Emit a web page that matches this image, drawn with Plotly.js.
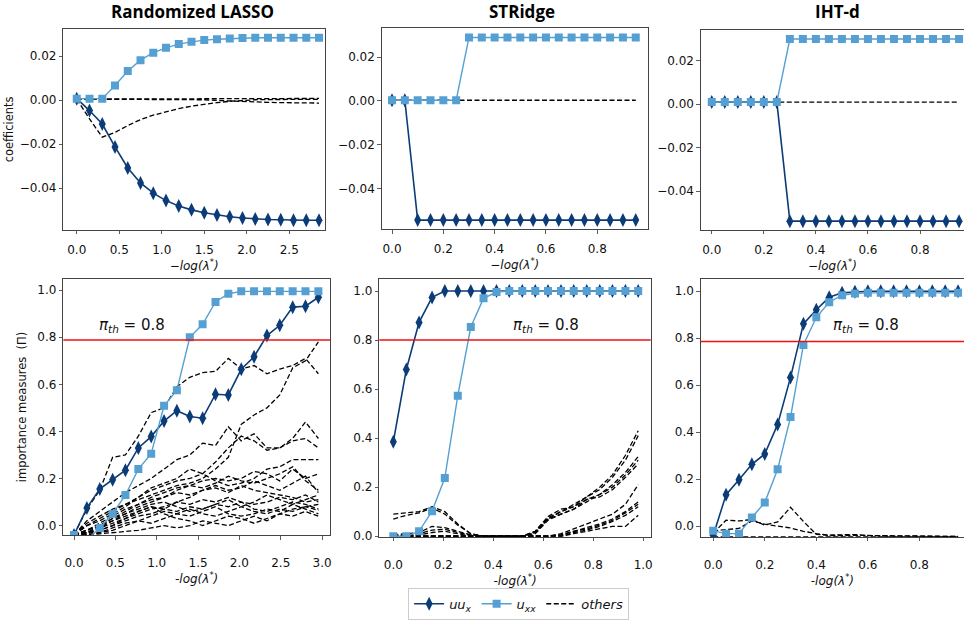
<!DOCTYPE html>
<html>
<head>
<meta charset="utf-8">
<script src="https://cdn.plot.ly/plotly-3.0.1.min.js"></script>
<style>html,body{margin:0;padding:0;background:#fff;}#chart{width:964px;height:620px;}</style>
</head>
<body>
<div id="chart"></div>
<script>
// ---------------- data ----------------
const panelTitles = ['Randomized LASSO', 'STRidge', 'IHT-d'];
const seriesNames = ['<i>uu<sub>x</sub></i>', '<i>u<sub>xx</sub></i>', '<i>others</i>'];
const piThreshold = [0.788, 0.8, 0.786];

// top row: coefficients
const xLassoTop = [0, 0.15, 0.3, 0.45, 0.6, 0.75, 0.9, 1.05, 1.2, 1.35, 1.5, 1.65, 1.8, 1.95, 2.1, 2.25, 2.4, 2.55, 2.7, 2.85];
const uuLassoTop = [0.0007, -0.0047, -0.0108, -0.0212, -0.0308, -0.0376, -0.0422, -0.0456, -0.0481, -0.0498, -0.0511, -0.0521, -0.0529, -0.0535, -0.0539, -0.0542, -0.0543, -0.0545, -0.0545, -0.0545];
const xxLassoTop = [0.0007, 0.0007, 0.0007, 0.0067, 0.0133, 0.0182, 0.0216, 0.0238, 0.0255, 0.0265, 0.0273, 0.0277, 0.0280, 0.0283, 0.0284, 0.0284, 0.0284, 0.0284, 0.0284, 0.0284];
const othLassoTop1 = [0.0005, 0.0005, 0.0005, 0.0005, 0.0005, 0.0005, 0.0005, 0.0005, 0.0005, 0.0005, 0.0005, 0.0005, 0.0006, 0.0006, 0.0006, 0.0007, 0.0007, 0.0007, 0.0008, 0.0008];
const othLassoTop2 = [0.0005, 0.0005, 0.0005, 0.0005, 0.0005, 0.0005, 0.0005, 0.0005, 0.0005, 0.0005, 0.0002, -0.0001, -0.0004, -0.0006, -0.0008, -0.001, -0.0011, -0.0012, -0.0013, -0.0013];
const othLassoTop3 = [0.0005, -0.0085, -0.0168, -0.0146, -0.0115, -0.0088, -0.0068, -0.0052, -0.0038, -0.0027, -0.0018, -0.0011, -0.0005, -0.0001, 0.0002, 0.0003, 0.0004, 0.0004, 0.0004, 0.0004];

const xSparseTop = [0, 0.05, 0.1, 0.15, 0.2, 0.25, 0.3, 0.35, 0.4, 0.45, 0.5, 0.55, 0.6, 0.65, 0.7, 0.75, 0.8, 0.85, 0.9, 0.95];
const uuSTRTop = [0.0003, 0.0003, -0.0545, -0.0545, -0.0545, -0.0545, -0.0545, -0.0545, -0.0545, -0.0545, -0.0545, -0.0545, -0.0545, -0.0545, -0.0545, -0.0545, -0.0545, -0.0545, -0.0545, -0.0545];
const xxSTRTop = [0.0003, 0.0003, 0.0003, 0.0003, 0.0003, 0.0003, 0.029, 0.029, 0.029, 0.029, 0.029, 0.029, 0.029, 0.029, 0.029, 0.029, 0.029, 0.029, 0.029, 0.029];
const othSTRTop = [0.0003, 0.0003, 0.0003, 0.0003, 0.0003, 0.0003, 0.0003, 0.0003, 0.0003, 0.0003, 0.0003, 0.0003, 0.0003, 0.0003, 0.0003, 0.0003, 0.0003, 0.0003, 0.0003, 0.0003];
const uuIHTTop = [0.0009, 0.0009, 0.0009, 0.0009, 0.0009, 0.0009, -0.0537, -0.0537, -0.0537, -0.0537, -0.0537, -0.0537, -0.0537, -0.0537, -0.0537, -0.0537, -0.0537, -0.0537, -0.0537, -0.0537];
const xxIHTTop = [0.0009, 0.0009, 0.0009, 0.0009, 0.0009, 0.0009, 0.0298, 0.0298, 0.0298, 0.0298, 0.0298, 0.0298, 0.0298, 0.0298, 0.0298, 0.0298, 0.0298, 0.0298, 0.0298, 0.0298];
const othIHTTop = [0.0009, 0.0009, 0.0009, 0.0009, 0.0009, 0.0009, 0.0009, 0.0009, 0.0009, 0.0009, 0.0009, 0.0009, 0.0009, 0.0009, 0.0009, 0.0009, 0.0009, 0.0009, 0.0009, 0.0009];

// bottom row: importance measures
const xLassoBot = [0, 0.156, 0.311, 0.467, 0.622, 0.778, 0.933, 1.089, 1.244, 1.4, 1.555, 1.711, 1.866, 2.022, 2.177, 2.333, 2.488, 2.644, 2.799, 2.955];
const uuLassoBot = [-0.04, 0.075, 0.155, 0.195, 0.235, 0.33, 0.378, 0.444, 0.488, 0.463, 0.456, 0.558, 0.555, 0.664, 0.717, 0.807, 0.851, 0.928, 0.932, 0.97];
const xxLassoBot = [-0.04, -0.06, -0.01, 0.05, 0.13, 0.24, 0.305, 0.509, 0.575, 0.8, 0.855, 0.95, 0.985, 0.995, 0.995, 0.995, 0.995, 0.995, 0.995, 0.995];
const othLassoBot = [
  [-0.04, 0.07, 0.15, 0.29, 0.30, 0.38, 0.48, 0.50, 0.59, 0.63, 0.65, 0.655, 0.71, 0.665, 0.68, 0.645, 0.665, 0.68, 0.71, 0.645],
  [-0.04, 0.01, 0.04, 0.07, 0.09, 0.11, 0.13, 0.15, 0.17, 0.18, 0.2, 0.24, 0.29, 0.43, 0.47, 0.5, 0.555, 0.67, 0.7, 0.78],
  [-0.04, 0.02, 0.06, 0.1, 0.14, 0.17, 0.2, 0.24, 0.28, 0.3, 0.35, 0.34, 0.42, 0.36, 0.39, 0.33, 0.33, 0.37, 0.44, 0.37],
  [-0.04, 0.0, 0.03, 0.06, 0.09, 0.12, 0.15, 0.17, 0.19, 0.2, 0.22, 0.27, 0.33, 0.38, 0.36, 0.32, 0.33, 0.36, 0.37, 0.33],
  [-0.04, 0.0, 0.02, 0.05, 0.08, 0.12, 0.16, 0.18, 0.2, 0.24, 0.22, 0.19, 0.17, 0.18, 0.2, 0.24, 0.25, 0.28, 0.28, 0.28],
  [-0.04, -0.02, 0.0, 0.03, 0.06, 0.09, 0.12, 0.14, 0.16, 0.17, 0.19, 0.2, 0.19, 0.2, 0.23, 0.22, 0.19, 0.24, 0.2, 0.22],
  [-0.04, -0.02, 0.01, 0.04, 0.07, 0.09, 0.11, 0.12, 0.15, 0.17, 0.16, 0.18, 0.21, 0.19, 0.18, 0.2, 0.22, 0.25, 0.19, 0.15],
  [-0.04, -0.03, 0.0, 0.02, 0.04, 0.06, 0.08, 0.07, 0.1, 0.12, 0.15, 0.17, 0.15, 0.16, 0.19, 0.17, 0.15, 0.18, 0.21, 0.14],
  [-0.04, -0.03, -0.01, 0.01, 0.03, 0.05, 0.07, 0.08, 0.1, 0.09, 0.11, 0.1, 0.12, 0.1, 0.09, 0.1, 0.12, 0.11, 0.13, 0.1],
  [-0.04, -0.03, -0.02, 0.0, 0.02, 0.04, 0.05, 0.07, 0.06, 0.08, 0.07, 0.09, 0.08, 0.1, 0.07, 0.06, 0.08, 0.1, 0.09, 0.07],
  [-0.04, -0.04, -0.03, -0.01, 0.01, 0.02, 0.04, 0.06, 0.05, 0.04, 0.06, 0.08, 0.05, 0.04, 0.05, 0.07, 0.06, 0.09, 0.07, 0.05],
  [-0.04, -0.035, -0.02, 0.0, 0.03, 0.06, 0.08, 0.05, 0.03, 0.02, 0.0, 0.02, 0.04, 0.03, 0.01, 0.03, 0.05, 0.04, 0.06, 0.04],
  [-0.04, -0.03, -0.01, 0.02, 0.05, 0.07, 0.09, 0.1, 0.08, 0.06, 0.07, 0.09, 0.11, 0.08, 0.1, 0.13, 0.11, 0.09, 0.11, 0.13],
  [-0.04, -0.04, -0.035, -0.03, -0.025, -0.02, -0.01, 0.0, -0.01, 0.0, 0.02, 0.01, 0.0, 0.02, 0.04, 0.02, 0.05, 0.07, 0.08, 0.09],
  [-0.04, -0.02, 0.0, 0.03, 0.05, 0.08, 0.1, 0.12, 0.14, 0.13, 0.15, 0.16, 0.14, 0.17, 0.15, 0.14, 0.13, 0.12, 0.1, 0.11],
  [-0.04, -0.04, -0.03, -0.02, 0.0, 0.02, 0.01, 0.03, 0.05, 0.07, 0.05, 0.04, 0.06, 0.08, 0.06, 0.05, 0.07, 0.06, 0.08, 0.065]
];

const xSTRBot = [0, 0.052, 0.103, 0.155, 0.206, 0.258, 0.31, 0.361, 0.413, 0.464, 0.516, 0.568, 0.619, 0.671, 0.722, 0.774, 0.826, 0.877, 0.929, 0.98];
const uuSTRBot = [0.385, 0.68, 0.872, 0.974, 1, 1, 1, 1, 1, 1, 1, 1, 1, 1, 1, 1, 1, 1, 1, 1];
const xxSTRBot = [0.0, 0.0, 0.02, 0.102, 0.237, 0.573, 0.853, 0.97, 0.996, 1, 1, 1, 1, 1, 1, 1, 1, 1, 1, 1];
const othSTRBot = [
  [0.09, 0.095, 0.1, 0.12, 0.1, 0.05, 0.01, 0.0, 0.0, 0.0, 0.0, 0.02, 0.08, 0.11, 0.12, 0.16, 0.2, 0.25, 0.33, 0.43],
  [0.07, 0.085, 0.095, 0.115, 0.09, 0.045, 0.01, 0.0, 0.0, 0.0, 0.0, 0.02, 0.075, 0.1, 0.13, 0.16, 0.19, 0.24, 0.31, 0.41],
  [0.005, 0.01, 0.015, 0.04, 0.035, 0.02, 0.005, 0.0, 0.0, 0.0, 0.0, 0.015, 0.07, 0.1, 0.12, 0.15, 0.17, 0.21, 0.26, 0.325],
  [0.0, 0.005, 0.01, 0.025, 0.028, 0.015, 0.005, 0.0, 0.0, 0.0, 0.0, 0.015, 0.07, 0.09, 0.11, 0.14, 0.17, 0.2, 0.25, 0.31],
  [0.0, 0.0, 0.005, 0.015, 0.02, 0.01, 0.0, 0.0, 0.0, 0.0, 0.0, 0.01, 0.065, 0.09, 0.11, 0.15, 0.16, 0.19, 0.24, 0.295],
  [0.0, 0.0, 0.0, 0.0, 0.0, 0.0, 0.0, 0.0, 0.0, 0.0, 0.0, 0.0, 0.0, 0.01, 0.03, 0.05, 0.07, 0.09, 0.13, 0.21],
  [0.0, 0.0, 0.0, 0.0, 0.0, 0.0, 0.0, 0.0, 0.0, 0.0, 0.0, 0.0, 0.0, 0.005, 0.02, 0.035, 0.05, 0.07, 0.1, 0.14],
  [0.0, 0.0, 0.0, 0.0, 0.0, 0.0, 0.0, 0.0, 0.0, 0.0, 0.0, 0.0, 0.0, 0.005, 0.02, 0.03, 0.045, 0.065, 0.095, 0.13],
  [0.0, 0.0, 0.0, 0.0, 0.0, 0.0, 0.0, 0.0, 0.0, 0.0, 0.0, 0.0, 0.0, 0.0, 0.015, 0.025, 0.04, 0.06, 0.085, 0.12],
  [0.0, 0.0, 0.0, 0.0, 0.0, 0.0, 0.0, 0.0, 0.0, 0.0, 0.0, 0.0, 0.0, 0.0, 0.01, 0.02, 0.03, 0.04, 0.04, 0.085]
];

const xIHTBot = [0, 0.05, 0.1, 0.15, 0.2, 0.25, 0.3, 0.35, 0.4, 0.45, 0.5, 0.55, 0.6, 0.65, 0.7, 0.75, 0.8, 0.85, 0.9, 0.95];
const uuIHTBot = [-0.04, 0.134, 0.197, 0.263, 0.307, 0.433, 0.633, 0.861, 0.921, 0.974, 0.993, 0.998, 1, 1, 1, 1, 1, 1, 1, 1];
const xxIHTBot = [-0.02, -0.032, -0.032, 0.037, 0.1, 0.242, 0.464, 0.771, 0.889, 0.953, 0.983, 0.99, 0.993, 0.993, 0.993, 0.993, 0.993, 0.993, 0.993, 0.993];
const othIHTBot = [
  [-0.03, 0.025, 0.022, 0.028, 0.004, 0.018, 0.08, 0.02, -0.035, -0.04, -0.04, -0.038, -0.039, -0.042, -0.042, -0.043, -0.043, -0.044, -0.044, -0.044],
  [-0.02, -0.015, -0.01, 0.022, 0.008, 0.0, -0.008, -0.022, -0.032, -0.038, -0.036, -0.036, -0.04, -0.041, -0.042, -0.042, -0.043, -0.043, -0.044, -0.044],
  [-0.046, -0.046, -0.046, -0.046, -0.046, -0.046, -0.046, -0.046, -0.046, -0.046, -0.046, -0.046, -0.046, -0.046, -0.046, -0.046, -0.046, -0.046, -0.046, -0.046]
];

// ---------------- styles ----------------
const C_UU = '#0c3c78';
const C_XX = '#559fd3';
const TICKFONT = {family: 'DejaVu Sans, sans-serif', size: 12, color: '#111'};
const traces = [];
let legendShown = {uu: false, xx: false, oth: false};

function addPanel(ax, x, uu, xx, others) {
  const xa = 'x' + (ax === 1 ? '' : ax), ya = 'y' + (ax === 1 ? '' : ax);
  others.forEach(o => {
    traces.push({x: x, y: o, xaxis: xa, yaxis: ya, type: 'scatter', mode: 'lines',
      line: {color: '#000', width: 1.3, dash: '5px,2.5px'},
      name: seriesNames[2], legendgroup: 'oth', showlegend: !legendShown.oth, legendrank: 3, hoverinfo: 'skip'});
    legendShown.oth = true;
  });
  traces.push({x: x, y: uu, xaxis: xa, yaxis: ya, type: 'scatter', mode: 'lines+markers',
    line: {color: C_UU, width: 1.6}, marker: {symbol: 'diamond-tall', size: 10, color: C_UU},
    name: seriesNames[0], legendgroup: 'uu', showlegend: !legendShown.uu, legendrank: 1});
  legendShown.uu = true;
  traces.push({x: x, y: xx, xaxis: xa, yaxis: ya, type: 'scatter', mode: 'lines+markers',
    line: {color: C_XX, width: 1.4}, marker: {symbol: 'square', size: 8, color: C_XX},
    name: seriesNames[1], legendgroup: 'xx', showlegend: !legendShown.xx, legendrank: 2});
  legendShown.xx = true;
}

addPanel(1, xLassoTop, uuLassoTop, xxLassoTop, [othLassoTop1, othLassoTop2, othLassoTop3]);
addPanel(2, xSparseTop, uuSTRTop, xxSTRTop, [othSTRTop]);
addPanel(3, xSparseTop, uuIHTTop, xxIHTTop, [othIHTTop]);
addPanel(4, xLassoBot, uuLassoBot, xxLassoBot, othLassoBot);
addPanel(5, xSTRBot, uuSTRBot, xxSTRBot, othSTRBot);
addPanel(6, xIHTBot, uuIHTBot, xxIHTBot, othIHTBot);

function baseAxis(domain, range, dtick, fmt, anchor) {
  return {domain: domain, range: range, anchor: anchor, dtick: dtick, tick0: 0, tickformat: fmt,
    showgrid: false, zeroline: false, showline: true, linecolor: '#444', linewidth: 1,
    ticks: 'outside', ticklen: 3.5, tickwidth: 0.8, tickcolor: '#333', tickfont: TICKFONT};
}
function xAxis(domain, range, dtick, fmt, anchor, title, standoff, labelOff) {
  const a = baseAxis(domain, range, dtick, fmt, anchor);
  a.mirror = true;
  a.ticklabelstandoff = labelOff;
  a.title = {text: title, font: {family: 'DejaVu Sans, sans-serif', size: 12, color: '#111'}, standoff: standoff};
  return a;
}
function yAxis(domain, range, dtick, fmt, anchor, mirror, title, standoff) {
  const a = baseAxis(domain, range, dtick, fmt, anchor);
  a.mirror = mirror;
  if (title) a.title = {text: title, font: {family: 'DejaVu Sans, sans-serif', size: 11.5, color: '#111'}, standoff: standoff};
  return a;
}

const topX = '<i>−log(λ<sup>*</sup>)</i>';
const botX = '<i>-log(λ<sup>*</sup>)</i>';

const layout = {
  width: 964, height: 620,
  margin: {l: 0, r: 0, t: 0, b: 0},
  paper_bgcolor: '#fff', plot_bgcolor: '#fff',
  showlegend: true,
  legend: {orientation: 'h', x: 0.538, xanchor: 'center', y: 0.03, yanchor: 'top',
    bordercolor: '#cccccc', borderwidth: 1, bgcolor: '#fff',
    font: {family: 'DejaVu Sans, sans-serif', size: 13, color: '#111'}, traceorder: 'normal'},
  xaxis: xAxis([0.0657, 0.3371], [-0.158, 2.92], 0.5, '.1f', 'y', topX, 1, 5),
  yaxis: yAxis([0.621, 0.952], [-0.0588, 0.0323], 0.02, '.2f', 'x', true, 'coefficients', 3),
  xaxis2: xAxis([0.396, 0.672], [-0.04, 0.997], 0.2, '.1f', 'y2', topX, 1, 5),
  yaxis2: yAxis([0.622, 0.953], [-0.0586, 0.0331], 0.02, '.2f', 'x2', true, null, 3),
  xaxis3: xAxis([0.727, 1.0], [-0.042, 0.969], 0.2, '.1f', 'y3', topX, 1, 5),
  yaxis3: yAxis([0.621, 0.950], [-0.0576, 0.0338], 0.02, '.2f', 'x3', false, null, 3),
  xaxis4: xAxis([0.0657, 0.3423], [-0.129, 3.095], 0.5, '.1f', 'y4', botX, 5, 13),
  yaxis4: yAxis([0.1166, 0.540], [-0.0415, 1.0485], 0.2, '.1f', 'x4', true, 'importance measures  (Π)', 8),
  xaxis5: xAxis([0.3935, 0.675], [-0.056, 1.03], 0.2, '.1f', 'y5', botX, 5, 13),
  yaxis5: yAxis([0.114, 0.540], [-0.003, 1.05], 0.2, '.1f', 'x5', true, null, 3),
  xaxis6: xAxis([0.727, 1.0], [-0.048, 0.973], 0.2, '.1f', 'y6', botX, 5, 13),
  yaxis6: yAxis([0.114, 0.540], [-0.046, 1.053], 0.2, '.1f', 'x6', false, null, 3),
  shapes: [
    {type: 'line', xref: 'x4 domain', x0: 0, x1: 1, yref: 'y4', y0: piThreshold[0], y1: piThreshold[0], line: {color: '#f01010', width: 1.5}},
    {type: 'line', xref: 'x5 domain', x0: 0, x1: 1, yref: 'y5', y0: piThreshold[1], y1: piThreshold[1], line: {color: '#f01010', width: 1.5}},
    {type: 'line', xref: 'x6 domain', x0: 0, x1: 1, yref: 'y6', y0: piThreshold[2], y1: piThreshold[2], line: {color: '#f01010', width: 1.5}}
  ],
  annotations: [
    {text: '<b>' + panelTitles[0] + '</b>', xref: 'paper', yref: 'paper', x: 0.2, y: 0.981, xanchor: 'center', yanchor: 'middle', showarrow: false, font: {family: 'Open Sans, sans-serif', size: 17, color: '#000'}},
    {text: '<b>' + panelTitles[1] + '</b>', xref: 'paper', yref: 'paper', x: 0.541, y: 0.981, xanchor: 'center', yanchor: 'middle', showarrow: false, font: {family: 'Open Sans, sans-serif', size: 17, color: '#000'}},
    {text: '<b>' + panelTitles[2] + '</b>', xref: 'paper', yref: 'paper', x: 0.869, y: 0.981, xanchor: 'center', yanchor: 'middle', showarrow: false, font: {family: 'Open Sans, sans-serif', size: 17, color: '#000'}},
    {text: '<i>π<sub>th</sub></i> = 0.8', xref: 'x4', yref: 'y4', x: 0.7, y: 0.85, xanchor: 'center', yanchor: 'middle', showarrow: false, font: {family: 'DejaVu Sans, sans-serif', size: 15, color: '#111'}},
    {text: '<i>π<sub>th</sub></i> = 0.8', xref: 'x5', yref: 'y5', x: 0.61, y: 0.86, xanchor: 'center', yanchor: 'middle', showarrow: false, font: {family: 'DejaVu Sans, sans-serif', size: 15, color: '#111'}},
    {text: '<i>π<sub>th</sub></i> = 0.8', xref: 'x6', yref: 'y6', x: 0.593, y: 0.853, xanchor: 'center', yanchor: 'middle', showarrow: false, font: {family: 'DejaVu Sans, sans-serif', size: 15, color: '#111'}}
  ]
};

Plotly.newPlot('chart', traces, layout, {displayModeBar: false, staticPlot: true});
</script>
</body>
</html>
